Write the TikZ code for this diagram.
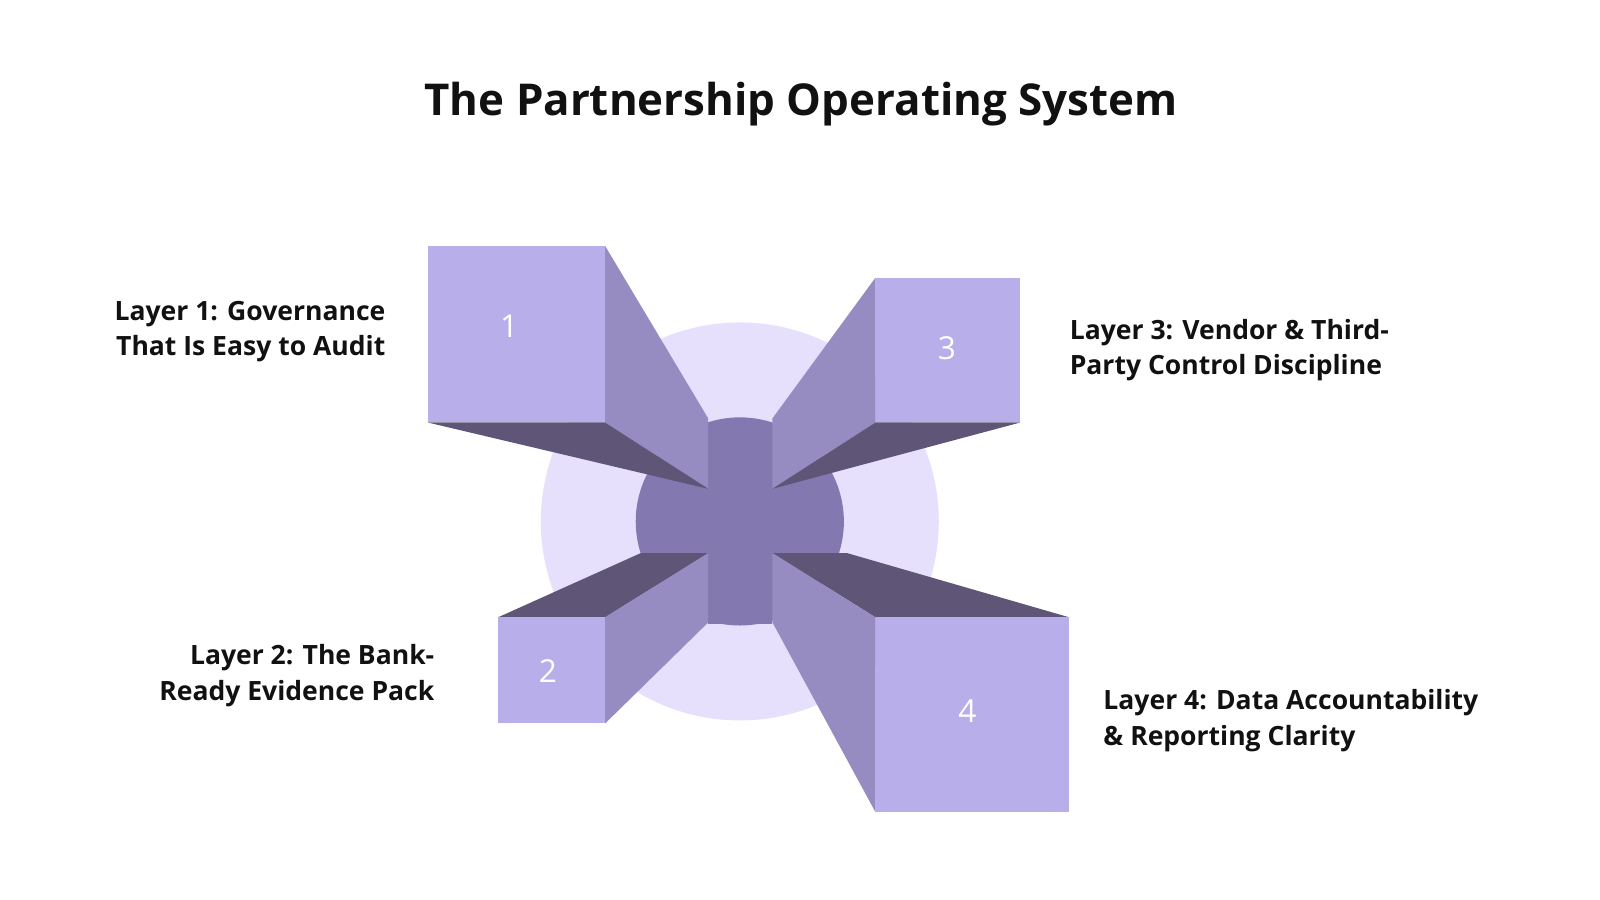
\documentclass[tikz,border=0pt]{standalone}
\usepackage{fontspec}
\setmainfont{Open Sans}
\begin{document}
\begin{tikzpicture}[x=0.5pt,y=-0.5pt]
\definecolor{bg}{HTML}{E6E0FD}
\definecolor{core}{HTML}{8378B0}
\definecolor{front}{HTML}{B8AEEA}
\definecolor{side}{HTML}{968CC2}
\definecolor{dark}{HTML}{5E5577}
\definecolor{txt}{HTML}{111111}
\tikzset{lbl/.style={font=\fontsize{13}{17.5}\selectfont\bfseries,text=txt,inner sep=0pt},
num/.style={font=\fontsize{15.5}{18}\selectfont,text=white}}
\useasboundingbox[fill=white] (0,0) rectangle (1568,882);
\node[font=\fontsize{21.5}{26}\selectfont\bfseries,text=txt] (title) at (785,102) {The Partnership Operating System};
\fill[bg] (725,511) circle (195);
\fill[core] (725,511) circle (102);
\fill[core] (694,430) rectangle (757,612);
% box 1
\fill[side] (593,241)--(694,410)--(694,479)--(593,414)--cycle;
\fill[dark] (419,414)--(593,414)--(694,479)--cycle;
\fill[front] (419,241) rectangle (593,414);
% box 3
\fill[side] (858,272)--(757,410)--(757,479)--(858,414)--cycle;
\fill[dark] (1000,414)--(858,414)--(757,479)--cycle;
\fill[front] (858,272) rectangle (1000,414);
% box 2
\fill[dark] (488,605)--(628,542)--(694,542)--(593,605)--cycle;
\fill[side] (593,605)--(694,542)--(694,610)--(593,709)--cycle;
\fill[front] (488,605) rectangle (593,709);
% box 4
\fill[dark] (757,542)--(830,542)--(1048,605)--(858,605)--cycle;
\fill[side] (757,542)--(858,605)--(858,796)--(757,610)--cycle;
\fill[front] (858,605) rectangle (1048,796);
\node[num] (n1) at (499,320) {1};
\node[num] (n2) at (537,658) {2};
\node[num] (n3) at (928,341) {3};
\node[num] (n4) at (948,697) {4};
\node[lbl,anchor=east,align=right] (l1) at (378,325) {Layer 1: Governance\\That Is Easy to Audit};
\node[lbl,anchor=east,align=right] (l2) at (426,662) {Layer 2: The Bank-\\Ready Evidence Pack};
\node[lbl,anchor=west,align=left] (l3) at (1048,343) {Layer 3: Vendor \& Third-\\Party Control Discipline};
\node[lbl,anchor=west,align=left] (l4) at (1081,706) {Layer 4: Data Accountability\\\& Reporting Clarity};
\end{tikzpicture}
\end{document}
